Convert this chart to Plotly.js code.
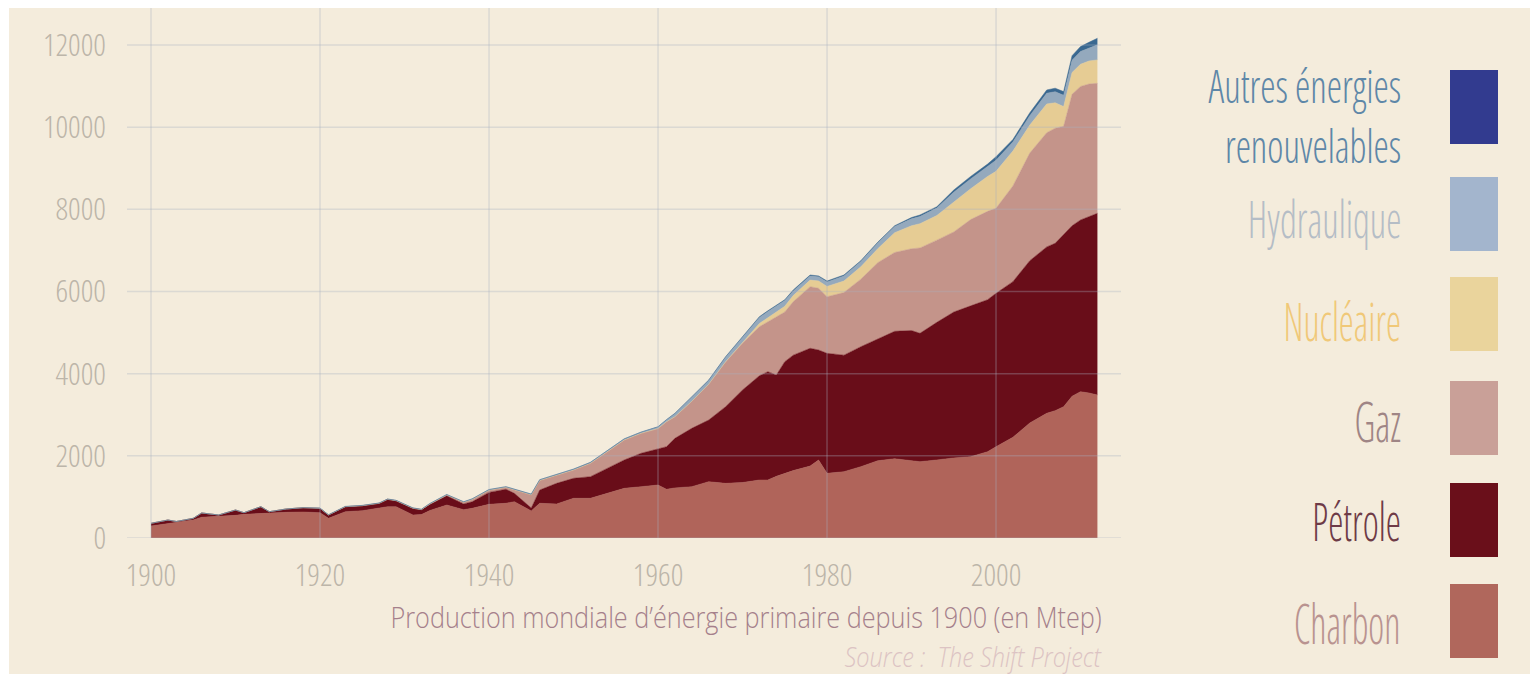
<!DOCTYPE html>
<html><head><meta charset="utf-8">
<script src="https://cdn.plot.ly/plotly-3.0.1.min.js"></script>
<style>
html,body{margin:0;padding:0;background:#ffffff;}
#chart{position:absolute;left:9px;top:8px;width:1521px;height:666px;}
#chart .xtick text, #chart .ytick text{font-stretch:75%;}
#chart g.annotation text{transform-box:fill-box;transform-origin:100% 50%;}
#chart g.annotation[data-index="0"] text,
#chart g.annotation[data-index="1"] text,
#chart g.annotation[data-index="2"] text,
#chart g.annotation[data-index="3"] text,
#chart g.annotation[data-index="4"] text,
#chart g.annotation[data-index="5"] text{font-stretch:75%;}
#chart g.annotation[data-index="0"] text{transform:scaleX(0.68);}
#chart g.annotation[data-index="1"] text{transform:scaleX(0.71);}
#chart g.annotation[data-index="2"] text{transform:scaleX(0.70);}
#chart g.annotation[data-index="3"] text{transform:scaleX(0.70);}
#chart g.annotation[data-index="4"] text{transform:scaleX(0.74);}
#chart g.annotation[data-index="5"] text{transform:scaleX(0.84);}
#chart g.annotation[data-index="6"] text,
#chart g.annotation[data-index="7"] text{transform:scaleX(0.87);}
</style></head><body><div id="chart"></div>
<script>
const years = [1900,1902,1903,1905,1906,1908,1910,1911,1913,1914,1916,1918,1920,1921,1923,1925,1927,1928,1929,1931,1932,1933,1935,1937,1938,1940,1942,1943,1945,1946,1948,1950,1952,1954,1956,1958,1960,1961,1962,1964,1966,1968,1970,1972,1973,1974,1975,1976,1978,1979,1980,1982,1984,1986,1988,1990,1991,1993,1995,1997,1999,2000,2002,2004,2006,2007,2008,2009,2010,2011,2012];
const charbon = [292,357,372,438,505,525,551,576,600,608,625,633,616,479,640,665,723,762,762,560,570,670,803,690,723,820,845,884,660,845,828,966,966,1087,1209,1249,1290,1185,1220,1249,1371,1330,1350,1412,1412,1500,1574,1640,1750,1899,1574,1614,1736,1880,1930,1880,1857,1900,1950,1979,2100,2222,2450,2800,3035,3100,3196,3450,3561,3530,3481];
const petrole = [65,81,30,41,105,35,130,40,162,32,81,105,107,81,122,121,121,179,146,163,120,145,227,140,157,290,340,203,70,323,503,487,526,609,690,813,873,1037,1206,1421,1501,1866,2252,2538,2636,2467,2717,2810,2867,2677,2921,2836,2920,2970,3100,3170,3125,3350,3550,3671,3700,3734,3790,3950,4050,4073,4204,4150,4180,4300,4422];
const gaz = [0,0,0,0,0,0,0,0,0,0,0,0,0,0,0,0,0,0,0,0,0,15,17,40,60,55,48,81,320,232,202,202,325,405,486,486,500,608,527,659,873,1085,1137,1193,1212,1420,1209,1302,1500,1501,1378,1525,1644,1850,1920,1990,2078,2000,1950,2100,2150,2068,2330,2620,2780,2800,2620,3200,3250,3220,3164];
const nucleaire = [0,0,0,0,0,0,0,0,0,0,0,0,0,0,0,0,0,0,0,0,0,0,0,0,0,0,0,0,0,0,0,0,0,0,0,0,0,0,0,0,0,10,30,80,100,120,140,150,160,180,250,280,300,340,480,560,590,600,736,750,850,900,850,680,700,620,480,530,540,560,570];
const hydraulique = [0,0,0,0,0,0,0,0,0,0,0,0,5,5,6,7,8,8,9,9,10,10,11,12,13,15,16,17,18,19,20,22,24,26,28,30,40,45,75,100,90,110,115,145,150,144,140,110,100,100,110,125,130,140,150,170,175,180,230,240,250,270,220,230,260,270,275,300,310,320,366];
const autres = [0,0,0,0,0,0,0,0,0,0,0,0,0,0,0,0,0,0,0,0,0,0,0,0,0,0,0,0,0,0,0,0,0,0,0,0,6,6,7,10,11,12,16,19,20,20,20,24,24,22,22,21,20,20,20,30,37,34,54,60,50,87,60,70,80,85,90,110,120,135,160];

const seriesNames = ['Charbon','Pétrole','Gaz','Nucléaire','Hydraulique','Autres énergies renouvelables'];
const legendLabels = ['Charbon','Pétrole','Gaz','Nucléaire','Hydraulique','Autres énergies<br>renouvelables'];
const seriesData = [charbon, petrole, gaz, nucleaire, hydraulique, autres];
const fillColors = ['#b0645a','#690d19','#c4948a','#e6cc94','#94a9bd','#3a6890'];
const swatchColors = ['#b0675c','#6a0f1a','#c9a098','#ead49c','#a3b5cd','#323b8f'];
const labelColors = ['#b99390','#6e3b47','#9f8585','#f0c878','#b5bdc6','#5e87a8'];
const xTicks = [1900,1920,1940,1960,1980,2000];
const yTicks = [0,2000,4000,6000,8000,10000,12000];

const FONT = 'Open Sans, sans-serif';
const ML = 118, MT = 0, PW = 994, PH = 530, W = 1521, H = 666;
const px = x => (x - 9 - ML) / PW;
const py = y => (PH - (y - 8 - MT)) / PH;

const traces = seriesData.map((d, i) => ({
  type: 'scatter', mode: 'lines', x: years, y: d, name: seriesNames[i],
  stackgroup: 'one', line: {width: 0.5, color: fillColors[i]}, fillcolor: fillColors[i],
  hoverinfo: 'x+y+name'
}));

const GRID = 'rgba(168,178,192,0.32)';
const shapes = [];
xTicks.forEach(v => shapes.push({type: 'line', xref: 'x', yref: 'paper', x0: v, x1: v, y0: 0, y1: 1,
  line: {color: GRID, width: 1.5}, layer: 'above'}));
yTicks.forEach(v => shapes.push({type: 'line', xref: 'paper', yref: 'y', x0: 0, x1: 1, y0: v, y1: v,
  line: {color: GRID, width: 1.5}, layer: 'above'}));

// legend (labels right-aligned left of the swatches)
const swatchTop = [584, 483, 381, 277, 177, 70];
const labelY = [622, 520, 420, 320, 217, 115];
const labelSize = [56, 54, 56, 54, 52, 46];
const annotations = [];
for (let i = 0; i < 6; i++) {
  shapes.push({type: 'rect', xref: 'paper', yref: 'paper', x0: px(1450), x1: px(1498),
    y0: py(swatchTop[i] + 74), y1: py(swatchTop[i]), fillcolor: swatchColors[i], line: {width: 0}});
  annotations.push({xref: 'paper', yref: 'paper', x: px(1403), y: py(labelY[i]), xanchor: 'right', yanchor: 'middle',
    text: legendLabels[i], showarrow: false, align: 'right',
    font: {family: FONT, size: labelSize[i], color: labelColors[i], weight: 300}});
}
annotations.push({xref: 'paper', yref: 'paper', x: px(1104), y: py(616), xanchor: 'right', yanchor: 'middle',
  text: 'Production mondiale d\u2019énergie primaire depuis 1900 (en Mtep)', showarrow: false, align: 'right',
  font: {family: FONT, size: 29, color: '#a5808b', weight: 300}});
annotations.push({xref: 'paper', yref: 'paper', x: px(1104), y: py(656), xanchor: 'right', yanchor: 'middle',
  text: 'Source :  The Shift Project', showarrow: false, align: 'right',
  font: {family: FONT, size: 27, color: '#dcc3c3', style: 'italic', weight: 300}});

const layout = {
  width: W, height: H,
  margin: {l: ML, r: W - ML - PW, t: MT, b: H - MT - PH, pad: 0},
  paper_bgcolor: '#f4ecdc', plot_bgcolor: '#f4ecdc',
  showlegend: false,
  font: {family: FONT, weight: 300},
  xaxis: {range: [1897.16, 2014.79], tickvals: xTicks, ticktext: xTicks.map(String),
    showgrid: false, zeroline: false, showline: false,
    ticks: '', ticklabelstandoff: 16, tickfont: {family: FONT, size: 31, color: '#bcb5a9', weight: 300}},
  yaxis: {range: [0, 12900], tickvals: yTicks, ticktext: yTicks.map(String),
    showgrid: false, zeroline: false, showline: false,
    ticks: '', ticklabelstandoff: 20, tickfont: {family: FONT, size: 31, color: '#bcb5a9', weight: 300}},
  shapes: shapes,
  annotations: annotations
};
Plotly.newPlot('chart', traces, layout, {displayModeBar: false, staticPlot: true});
</script></body></html>
